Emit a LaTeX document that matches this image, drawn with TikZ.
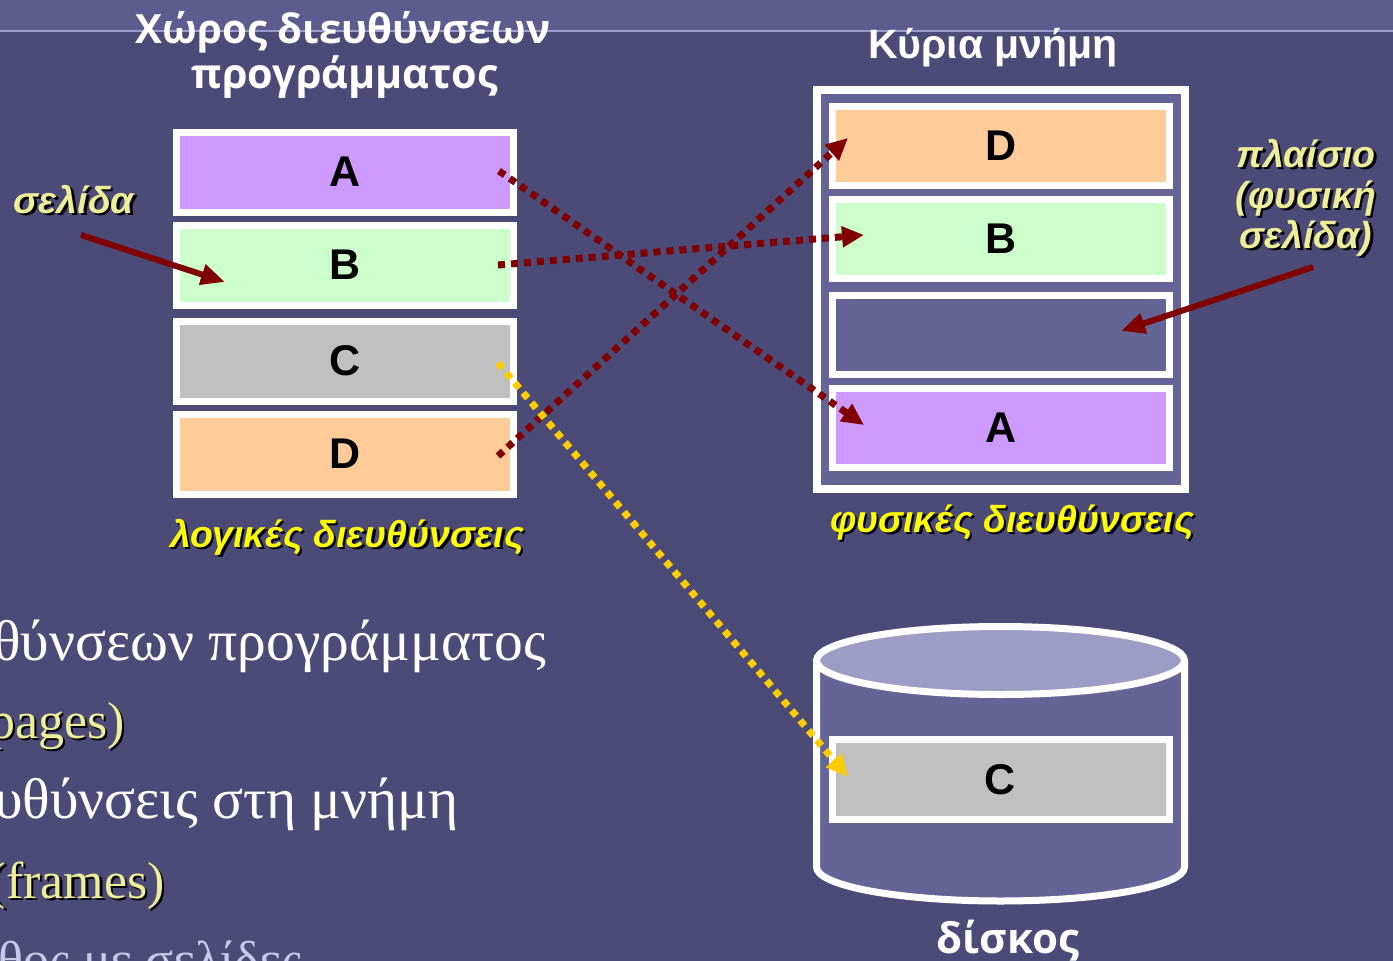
\documentclass[tikz,border=0pt]{standalone}
\usepackage{fontspec}
\setmainfont{Liberation Sans}
\newfontfamily\titlefont{Open Sans}
\newfontfamily\serifgr{Liberation Serif}
\usetikzlibrary{arrows.meta,calc}
\definecolor{bg}{HTML}{4C4B78}
\definecolor{band}{HTML}{5C5C8F}
\definecolor{bandline}{HTML}{9C9CD0}
\definecolor{frameblue}{HTML}{646496}
\definecolor{disktop}{HTML}{9C9CC4}
\definecolor{pA}{HTML}{CC99FF}
\definecolor{pB}{HTML}{CCFFCC}
\definecolor{pC}{HTML}{C0C0C0}
\definecolor{pD}{HTML}{FFCC99}
\definecolor{darkred}{HTML}{800000}
\definecolor{arrowyellow}{HTML}{FFCC00}
\definecolor{paleyellow}{HTML}{EEEE99}
\definecolor{brightyellow}{HTML}{FFFF00}
\definecolor{lavender}{HTML}{C8C8E8}
\tikzset{
  pagebox/.style={draw=white, line width=7pt, inner sep=0pt, minimum width=337pt,
    minimum height=80pt, font=\fontsize{43}{43}\selectfont\bfseries, text=black},
  framebox/.style={pagebox, minimum height=79pt},
  dotarrow/.style={line width=7pt, dash pattern=on 7pt off 6pt,
    -{Triangle[length=22pt,width=20pt]}},
  ptr/.style={line width=6pt, darkred, -{Triangle[length=24pt,width=20pt]}},
  head/.style={text=white, inner sep=0pt, anchor=base, font=\titlefont\fontsize{42}{48}\selectfont\bfseries},
  ylab/.style={inner sep=0pt, anchor=base, font=\fontsize{37.5}{41}\selectfont\bfseries\itshape},
  shad/.style={text=black},
  body/.style={inner sep=0pt, anchor=base east, font=\serifgr\fontsize{52}{60}\selectfont},
  bodygr/.style={body, font=\serifgr\fontsize{57.5}{60}\selectfont},
}
\begin{document}
\begin{tikzpicture}[x=1pt,y=-1pt]
\useasboundingbox (0,0) rectangle (1393,961);
\clip (0,0) rectangle (1393,961);
\fill[bg] (0,0) rectangle (1393,961);
\fill[band] (0,0) rectangle (1393,31);
\draw[bandline, line width=2pt] (0,31) -- (1393,31);

% titles
\node[head, font=\titlefont\fontsize{40.3}{48}\selectfont\bfseries] (t1) at (343,43) {Χώρος διευθύνσεων};
\node[head, font=\titlefont\fontsize{41.3}{48}\selectfont\bfseries] (t2) at (345,88) {προγράμματος};
\node[head, font=\fontsize{41}{48}\selectfont\bfseries] (t3) at (993,58) {Κύρια μνήμη};

% logical pages
\node[pagebox, fill=pA] (lA) at (345,172) {A};
\node[pagebox, fill=pB] (lB) at (345,265) {B};
\node[pagebox, fill=pC] (lC) at (345,361) {C};
\node[pagebox, fill=pD] (lD) at (345,454) {D};

% physical memory
\node[draw=white, line width=7.5pt, fill=frameblue, inner sep=0pt,
  minimum width=368pt, minimum height=399pt] (mem) at (1001,289.5) {};
\node[framebox, fill=pD] (fD) at (1001,146) {D};
\node[framebox, fill=pB] (fB) at (1001,239) {B};
\node[framebox, fill=frameblue] (fE) at (1001,335) {};
\node[framebox, fill=pA] (fA) at (1001,427.5) {A};

% disk
\filldraw[fill=frameblue, draw=white, line width=7pt]
  (816.5,660.5) -- (816.5,867) arc[start angle=180, end angle=360, x radius=184pt, y radius=34pt]
  -- (1184.5,660.5);
\filldraw[fill=disktop, draw=white, line width=7pt]
  (1000.5,660.5) ellipse [x radius=184pt, y radius=34pt];
\node[pagebox, fill=pC, minimum height=80pt] (dC) at (1000.5,779.5) {C};
\node[head] (t4) at (1008,953) {δίσκος};

% yellow labels
\node[ylab, shad] at (76.5,215.5) {σελίδα};
\node[ylab, text=paleyellow] (lsel) at (74,213) {σελίδα};
\node[ylab, shad] at (349.5,549.5) {λογικές διευθύνσεις};
\node[ylab, text=brightyellow] (llog) at (347,547) {λογικές διευθύνσεις};
\node[ylab, shad] at (1014.5,534.5) {φυσικές διευθύνσεις};
\node[ylab, text=brightyellow] (lphy) at (1012,532) {φυσικές διευθύνσεις};
\node[ylab, shad] at (1308.5,169.5) {πλαίσιο};
\node[ylab, text=paleyellow] (pl1) at (1306,167) {πλαίσιο};
\node[ylab, shad] at (1308.5,210.5) {(φυσική};
\node[ylab, text=paleyellow] (pl2) at (1306,208) {(φυσική};
\node[ylab, shad] at (1308.5,250.5) {σελίδα)};
\node[ylab, text=paleyellow] (pl3) at (1306,248) {σελίδα)};

% body text (cut slide text)
\node[bodygr, text=white] (b1) at (546,660) {θύνσεων προγράμματος};
\node[body, shad] at (127.5,740.5) {pages)};
\node[body, text=paleyellow] (b2) at (125,738) {pages)};
\node[bodygr, text=white] (b3) at (459,818) {υθύνσεις στη μνήμη};
\node[body, shad] at (167.5,900.5) {(frames)};
\node[body, text=paleyellow] (b4) at (165,898) {(frames)};
\node[body, text=lavender] (b5) at (302,977) {θος με σελίδες};

% connectors
\coordinate (sA) at (499,171);
\coordinate (sB) at (498,265);
\coordinate (sC) at (498,363);
\coordinate (sD) at (498,456);
\coordinate (tA) at (864,425);
\coordinate (tB) at (864,235);
\coordinate (tC) at (848,777);
\coordinate (tD) at (848,138);
\draw[dotarrow, darkred] (sA) -- (tA);
\draw[dotarrow, darkred] (sB) -- (tB);
\draw[dotarrow, darkred] (sD) -- (tD);
\draw[dotarrow, arrowyellow] (sC) -- (tC);

\coordinate (selS) at (81,235);
\coordinate (selT) at (225,282);
\coordinate (plS) at (1313,267);
\coordinate (plT) at (1121,331);
\draw[ptr] (selS) -- (selT);
\draw[ptr] (plS) -- (plT);
\end{tikzpicture}
\end{document}
